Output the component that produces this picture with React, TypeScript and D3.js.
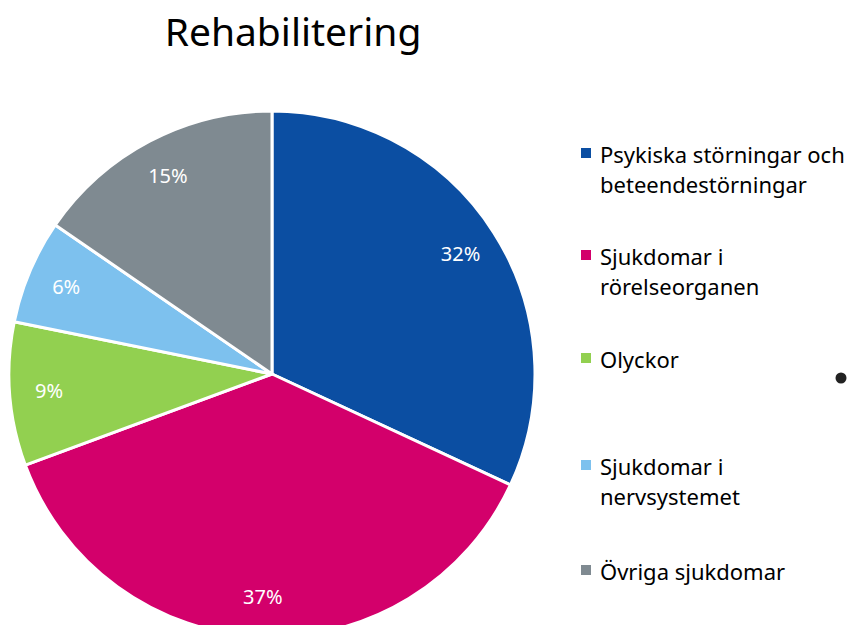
import * as d3 from 'd3';
import React from 'react';

const width = 851;
const height = 625;
const cx = 272;
const cy = 374;
const radius = 263;
const font = "'Noto Sans', 'Open Sans', sans-serif";

const categories = [
  ['Psykiska störningar och', 'beteendestörningar'],
  ['Sjukdomar i', 'rörelseorganen'],
  ['Olyckor'],
  ['Sjukdomar i', 'nervsystemet'],
  ['Övriga sjukdomar'],
];
const values = [31.9, 37.4, 8.8, 6.4, 15.4];
const colors = ['#0B4EA2', '#D3006B', '#92D050', '#7DC1EE', '#7F8A91'];
const legendY = [163, 265, 368, 475, 580];

const App = () => {
  const pie = d3.pie<number>().sort(null).value(d => d);
  const arcs = pie(values);
  const arc = d3.arc<d3.PieArcDatum<number>>().innerRadius(0).outerRadius(radius);
  const labelArc = d3.arc<d3.PieArcDatum<number>>().innerRadius(radius * 0.85).outerRadius(radius * 0.85);
  const total = d3.sum(values);

  return (
    <svg width={width} height={height} style={{ position: 'absolute', left: 0, top: 0 }}>
      <text x={293} y={46} textAnchor="middle" fontFamily={font} fontSize={39} fill="#000">
        Rehabilitering
      </text>
      <g transform={`translate(${cx}, ${cy})`}>
        {arcs.map((a, i) => (
          <path key={i} d={arc(a) || ''} fill={colors[i]} stroke="#fff" strokeWidth={3} strokeLinejoin="round" />
        ))}
        {arcs.map((a, i) => {
          const [x, y] = labelArc.centroid(a);
          return (
            <text key={i} x={x} y={y} dy="0.35em" textAnchor="middle" fontFamily={font} fontSize={20} fill="#fff">
              {Math.round((a.data / total) * 100)}%
            </text>
          );
        })}
      </g>
      <g>
        {categories.map((lines, i) => (
          <g key={i}>
            <rect x={581} y={legendY[i] - 15} width={10} height={10} fill={colors[i]} />
            {lines.map((l, j) => (
              <text key={j} x={600} y={legendY[i] + j * 30} fontFamily={font} fontSize={22} fill="#000">
                {l}
              </text>
            ))}
          </g>
        ))}
      </g>
      <circle cx={841} cy={378} r={5.5} fill="#222" />
    </svg>
  );
};

export default App;
